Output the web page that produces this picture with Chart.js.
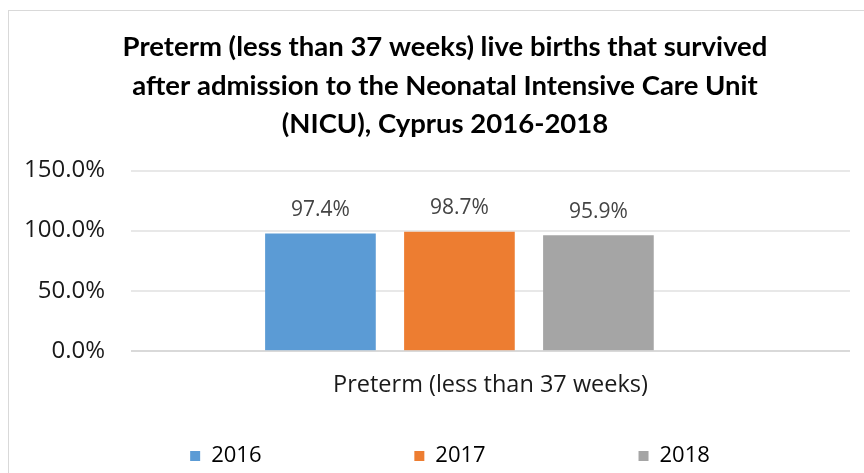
<!DOCTYPE html>
<html>
<head>
<meta charset="utf-8">
<script src="https://cdn.jsdelivr.net/npm/chart.js@4/dist/chart.umd.min.js"></script>
<style>
 html, body { margin: 0; padding: 0; background: #fff; overflow: hidden; }
 #wrap {
  position: absolute; left: 8px; top: 10px;
  width: 880px; height: 480px;
  border-left: 1px solid #d9d9d9; border-top: 1px solid #d9d9d9;
 }
</style>
</head>
<body>
<div id="wrap"><canvas id="nicuChart"></canvas></div>
<script>
// chart data
const categories = ["Preterm (less than 37 weeks)"];
const years = ["2016", "2017", "2018"];
const survived = [97.4, 98.7, 95.9]; // percent, one per year
const yTicks = [0, 50, 100, 150];
const titleLines = [
 "Preterm (less than 37 weeks) live births that survived",
 "after admission to the Neonatal Intensive Care Unit",
 "(NICU), Cyprus 2016-2018"
];

const colours = ["#5b9bd5", "#ed7d31", "#a5a5a5"];
const textFont = "'Open Sans', sans-serif";
const titleFont = "Lato, sans-serif";

// value labels above each bar
const barLabels = {
 id: 'barLabels',
 afterDatasetsDraw(chart) {
  const ctx = chart.ctx;
  ctx.save();
  ctx.font = "21px " + textFont;
  ctx.fillStyle = "#444444";
  ctx.textAlign = "center";
  ctx.textBaseline = "middle";
  chart.data.datasets.forEach((ds, i) => {
   chart.getDatasetMeta(i).data.forEach((bar, j) => {
    ctx.fillText(ds.data[j].y.toFixed(1) + "%", bar.x, bar.y - 24);
   });
  });
  ctx.restore();
 }
};

// let the y labels use the left padding strip too, and nudge the legend
const layoutTweaks = {
 id: 'layoutTweaks',
 afterLayout(chart) {
  chart.scales.y.left = 0;
  chart.legend.left += 10;
 }
};

const ctx = document.getElementById('nicuChart').getContext('2d');

window.nicuChart = new Chart(ctx, {
 type: 'bar',
 data: {
  datasets: years.map((yr, i) => ({
   label: yr,
   backgroundColor: colours[i],
   data: [{ x: i, y: survived[i] }],
  })),
 },
 options: {
  responsive: true,
  maintainAspectRatio: false,
  animation: false,
  grouped: false,
  barThickness: 110,
  layout: { padding: { left: 31, right: 39, top: 0, bottom: 14 } },
  plugins: {
   title: {
    display: true,
    text: titleLines,
    color: "#000",
    font: { family: titleFont, size: 27.5, weight: 'bold', lineHeight: 1.4 },
    padding: { top: 17, bottom: 27 },
   },
   legend: {
    position: 'bottom',
    labels: {
     color: "#000",
     font: { family: textFont, size: 22 },
     boxWidth: 10,
     boxHeight: 10,
     padding: 10,
     // widen the gaps between legend entries the way Excel spreads them
     generateLabels: (chart) => {
      const items = Chart.defaults.plugins.legend.labels.generateLabels(chart);
      items.forEach((it, i) => {
       if (i < items.length - 1) it.text = it.text + ' '.repeat(25);
      });
      return items;
     },
    },
   },
   tooltip: { enabled: false },
  },
  scales: {
   x: {
    type: 'linear',
    offset: false,
    min: -1.363,
    max: 3.81,
    grid: { display: false, drawTicks: false },
    border: { display: false },
    ticks: { display: false },
    title: {
     display: true,
     text: categories[0],
     color: "#1a1a1a",
     font: { family: textFont, size: 23.5 },
     padding: { top: 20, bottom: 36 },
    },
   },
   y: {
    min: yTicks[0],
    max: yTicks[yTicks.length - 1],
    afterBuildTicks: (scale) => { scale.ticks = yTicks.map(v => ({ value: v })); },
    afterFit: (scale) => { scale.width = 91; },
    border: { display: false },
    grid: {
     color: (c) => c.tick.value === 0 ? "#d9d9d9" : "#e8e8e8",
     lineWidth: 2,
     drawTicks: false,
    },
    ticks: {
     color: "#1a1a1a",
     font: { family: textFont, size: 24 },
     padding: 26,
     autoSkip: false,
     callback: (v) => v.toFixed(1) + "%",
    },
   },
  },
 },
 plugins: [barLabels, layoutTweaks],
});
</script>
</body>
</html>
